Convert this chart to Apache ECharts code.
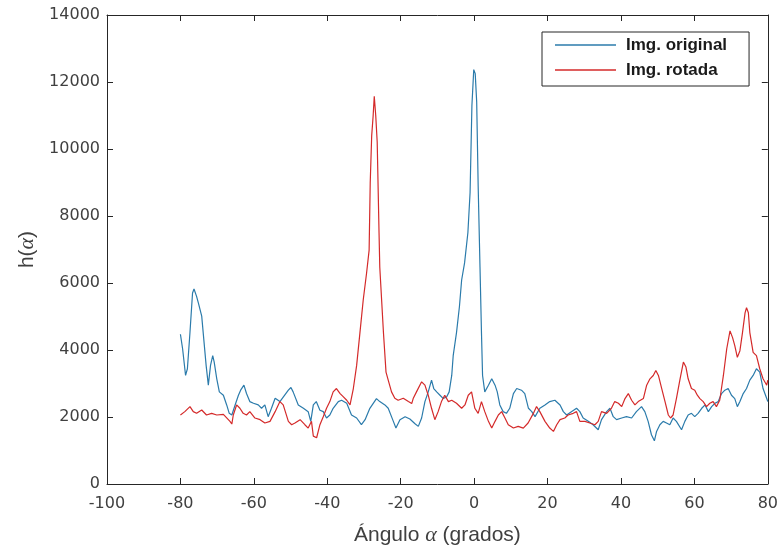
<!DOCTYPE html>
<html>
<head>
<meta charset="utf-8">
<script src="https://cdn.jsdelivr.net/npm/echarts@6/dist/echarts.min.js"></script>
<style>html,body{margin:0;padding:0;background:#fff}#c{width:781px;height:551px}</style>
</head>
<body>
<div id="c"></div>
<script>
// Tick values
var xTicks = [-100, -80, -60, -40, -20, 0, 20, 40, 60, 80];
var yTicks = [0, 2000, 4000, 6000, 8000, 10000, 12000, 14000];
var seriesNames = ['Img. original', 'Img. rotada'];

// Img. original (angle in degrees, h value)
var origAngle = [-80.0,-79.4,-78.6,-78.1,-77.4,-76.7,-76.3,-75.6,-75.1,-74.7,-74.2,-73.8,-73.0,-72.4,-71.8,-71.2,-70.8,-70.1,-69.4,-68.3,-67.4,-66.7,-66.0,-65.1,-64.2,-63.6,-62.7,-62.0,-61.1,-60.1,-58.8,-57.9,-57.0,-56.1,-55.2,-54.2,-52.9,-50.6,-49.9,-49.3,-47.9,-46.5,-45.2,-44.5,-43.8,-43.0,-42.0,-41.1,-40.2,-39.3,-38.4,-37.0,-36.1,-34.7,-33.4,-32.0,-30.7,-29.7,-28.4,-26.6,-25.7,-24.3,-23.4,-22.0,-21.3,-20.2,-18.8,-17.5,-16.1,-15.2,-14.3,-13.4,-12.5,-11.6,-11.0,-10.2,-9.3,-8.4,-7.5,-6.8,-6.1,-5.7,-4.8,-4.0,-3.4,-2.6,-1.7,-1.1,-0.6,-0.1,0.3,0.7,1.1,1.6,2.0,2.3,2.9,3.9,4.8,5.7,6.3,7.0,7.9,8.8,9.7,10.7,11.6,12.9,13.8,14.8,15.7,16.6,17.9,19.3,20.6,22.0,23.4,24.3,25.2,26.5,27.9,28.8,29.7,31.1,32.4,33.8,34.7,36.1,37.0,37.9,38.8,40.2,41.5,42.9,44.2,45.6,46.5,47.4,48.3,49.1,49.7,50.6,51.5,52.4,53.3,54.2,55.1,56.5,57.4,58.3,59.2,60.1,61.0,62.0,62.9,63.8,64.7,65.6,66.5,67.4,68.3,69.2,70.1,71.0,71.7,72.4,73.3,74.2,75.1,76.0,76.9,77.8,78.7,79.7,80.0];
var origValue = [4470,4030,3240,3440,4520,5700,5820,5600,5400,5450,5010,4520,3540,2950,3540,3830,3640,3140,2750,2650,2360,2110,2060,2360,2650,2800,2950,2700,2460,2410,2360,2260,2360,2010,2260,2560,2460,2800,2880,2750,2360,2260,2160,1870,2360,2460,2200,2160,1970,2060,2260,2460,2500,2410,2060,1970,1770,1920,2260,2550,2460,2360,2260,1870,1670,1920,2010,1940,1800,1720,1970,2460,2750,3100,2850,2750,2650,2550,2600,2750,3240,3830,4520,5300,6090,6600,7500,8700,11300,12370,12250,11400,8900,6480,4520,3240,2750,2950,3140,2950,2750,2360,2160,2110,2260,2700,2850,2800,2700,2260,2160,2010,2260,2360,2460,2500,2360,2160,2060,2160,2260,2160,1970,1870,1770,1620,1920,2160,2260,2010,1920,1970,2010,1970,2160,2310,2160,1870,1470,1290,1570,1770,1870,1820,1770,1970,1870,1620,1870,2060,2110,2010,2110,2260,2360,2160,2310,2410,2460,2700,2800,2850,2650,2550,2310,2460,2700,2850,3100,3240,3440,3340,2850,2550,2460];

// Img. rotada
var rotAngle = [-80.0,-78.8,-77.4,-76.5,-75.6,-74.2,-72.9,-71.5,-70.1,-68.3,-66.5,-66.0,-65.6,-64.7,-63.8,-62.9,-62.0,-61.1,-59.7,-58.3,-57.0,-55.6,-54.2,-52.9,-52.0,-50.6,-49.7,-48.8,-47.4,-46.1,-45.2,-44.3,-43.8,-42.9,-42.0,-41.1,-40.2,-39.3,-38.4,-37.5,-36.5,-35.6,-34.7,-33.8,-32.9,-32.0,-31.1,-30.2,-29.3,-28.6,-28.3,-27.9,-27.5,-27.2,-26.8,-26.4,-25.9,-25.7,-24.7,-24.0,-23.4,-22.5,-21.6,-20.7,-19.3,-17.9,-17.0,-16.6,-15.7,-14.3,-13.4,-12.5,-11.6,-10.7,-9.8,-8.9,-8.0,-7.0,-6.1,-4.8,-3.4,-2.5,-1.6,-0.7,0.2,1.1,2.0,2.9,3.9,4.8,5.7,6.6,7.5,8.4,9.3,10.7,12.0,13.4,14.7,15.2,16.1,17.0,17.9,19.3,20.6,21.6,22.5,23.4,24.7,25.6,27.0,27.9,28.8,30.2,31.5,32.9,33.8,34.7,36.1,37.4,38.3,39.3,40.2,41.1,42.0,42.9,43.8,44.7,46.1,47.0,47.9,48.8,49.5,50.2,51.1,52.0,52.9,53.5,54.2,55.1,56.1,57.0,57.7,58.3,59.2,60.1,60.8,61.5,62.4,63.3,64.2,65.1,66.0,66.9,67.9,68.8,69.7,70.4,71.0,71.7,72.4,73.1,73.8,74.2,74.7,75.1,76.0,76.9,77.8,78.7,79.7,80.0];
var rotValue = [2060,2160,2310,2160,2110,2210,2060,2110,2060,2080,1870,1790,2060,2360,2260,2110,2060,2160,1970,1920,1820,1870,2160,2460,2360,1870,1770,1820,1920,1770,1670,1870,1430,1380,1770,2010,2260,2460,2750,2850,2700,2600,2500,2360,2850,3540,4520,5500,6290,6980,9000,10400,11000,11570,11000,10200,7500,6480,4520,3340,3100,2750,2560,2500,2560,2460,2400,2550,2750,3050,2950,2650,2260,1920,2160,2460,2650,2460,2500,2410,2260,2360,2650,2750,2260,2110,2460,2160,1870,1670,1870,2060,2160,1970,1770,1670,1720,1670,1820,1870,2100,2310,2160,1870,1670,1570,1770,1920,1970,2060,2110,2160,1870,1870,1820,1770,1870,2160,2110,2260,2460,2410,2310,2550,2700,2500,2360,2460,2550,2950,3140,3240,3390,3240,2850,2460,2060,1970,2060,2550,3140,3640,3490,3140,2850,2800,2650,2550,2460,2310,2410,2460,2310,2500,3240,4030,4570,4370,4130,3780,3980,4520,5110,5260,5110,4520,3930,3830,3440,3140,2950,3100];

function pairs(a, v) { return a.map(function (x, i) { return [x, v[i]]; }); }

var axisColor = '#262626';
var labelColor = '#404040';
var tickFont = 'DejaVu Sans';

var chart = echarts.init(document.getElementById('c'), null, {renderer: 'canvas'});
chart.setOption({
  animation: false,
  backgroundColor: '#ffffff',
  grid: {left: 107, right: 13, top: 15, bottom: 61, containLabel: false},
  legend: {
    orient: 'vertical',
    left: 542, top: 32,
    padding: [4, 22, 7, 13],
    itemGap: 7,
    itemWidth: 61,
    itemHeight: 1.5,
    icon: 'rect',
    backgroundColor: '#ffffff',
    borderColor: '#262626',
    borderWidth: 1,
    borderRadius: 0,
    data: seriesNames,
    textStyle: {fontFamily: 'Liberation Sans', fontWeight: 'bold', fontSize: 17, color: '#1a1a1a', lineHeight: 18, padding: [0, 0, 0, 5]}
  },
  xAxis: [{
    type: 'value', min: xTicks[0], max: xTicks[xTicks.length - 1], interval: 20,
    name: '{n|Ángulo }{a|α}{n| (grados)}', nameLocation: 'middle', nameGap: 40,
    nameTextStyle: {
      rich: {
        n: {fontFamily: 'Liberation Sans', fontSize: 21, color: labelColor},
        a: {fontFamily: 'Liberation Serif', fontStyle: 'italic', fontSize: 22, color: labelColor}
      }
    },
    axisLine: {show: true, onZero: false, lineStyle: {color: axisColor, width: 1}},
    axisTick: {show: true, inside: true, length: 6, lineStyle: {color: axisColor}},
    axisLabel: {margin: 12, fontFamily: tickFont, fontSize: 16, color: labelColor, formatter: function (v) { return String(v); }},
    splitLine: {show: false}
  }, {
    type: 'value', position: 'top', min: xTicks[0], max: xTicks[xTicks.length - 1], interval: 20,
    axisLine: {show: true, onZero: false, lineStyle: {color: axisColor, width: 1}},
    axisTick: {show: true, inside: true, length: 6, lineStyle: {color: axisColor}},
    axisLabel: {show: false}, splitLine: {show: false}
  }],
  yAxis: [{
    type: 'value', min: yTicks[0], max: yTicks[yTicks.length - 1], interval: 2000,
    name: '{n|h(}{a|α}{n|)}', nameLocation: 'middle', nameGap: 66, nameRotate: 90,
    nameTextStyle: {
      rich: {
        n: {fontFamily: 'Liberation Sans', fontSize: 21, color: labelColor},
        a: {fontFamily: 'Liberation Serif', fontStyle: 'italic', fontSize: 22, color: labelColor}
      }
    },
    axisLine: {show: true, onZero: false, lineStyle: {color: axisColor, width: 1}},
    axisTick: {show: true, inside: true, length: 6, lineStyle: {color: axisColor}},
    axisLabel: {margin: 7, fontFamily: tickFont, fontSize: 16, color: labelColor, formatter: function (v) { return String(v); }},
    splitLine: {show: false}
  }, {
    type: 'value', position: 'right', min: yTicks[0], max: yTicks[yTicks.length - 1], interval: 2000,
    axisLine: {show: true, onZero: false, lineStyle: {color: axisColor, width: 1}},
    axisTick: {show: true, inside: true, length: 6, lineStyle: {color: axisColor}},
    axisLabel: {show: false}, splitLine: {show: false}
  }],
  series: [{
    name: seriesNames[0], type: 'line', xAxisIndex: 0, yAxisIndex: 0,
    symbol: 'none', smooth: false,
    lineStyle: {color: '#2b7bab', width: 1.2},
    itemStyle: {color: '#2b7bab'},
    data: pairs(origAngle, origValue)
  }, {
    name: seriesNames[1], type: 'line', xAxisIndex: 0, yAxisIndex: 0,
    symbol: 'none', smooth: false,
    lineStyle: {color: '#d42a2a', width: 1.2},
    itemStyle: {color: '#d42a2a'},
    data: pairs(rotAngle, rotValue)
  }]
});
</script>
</body>
</html>
